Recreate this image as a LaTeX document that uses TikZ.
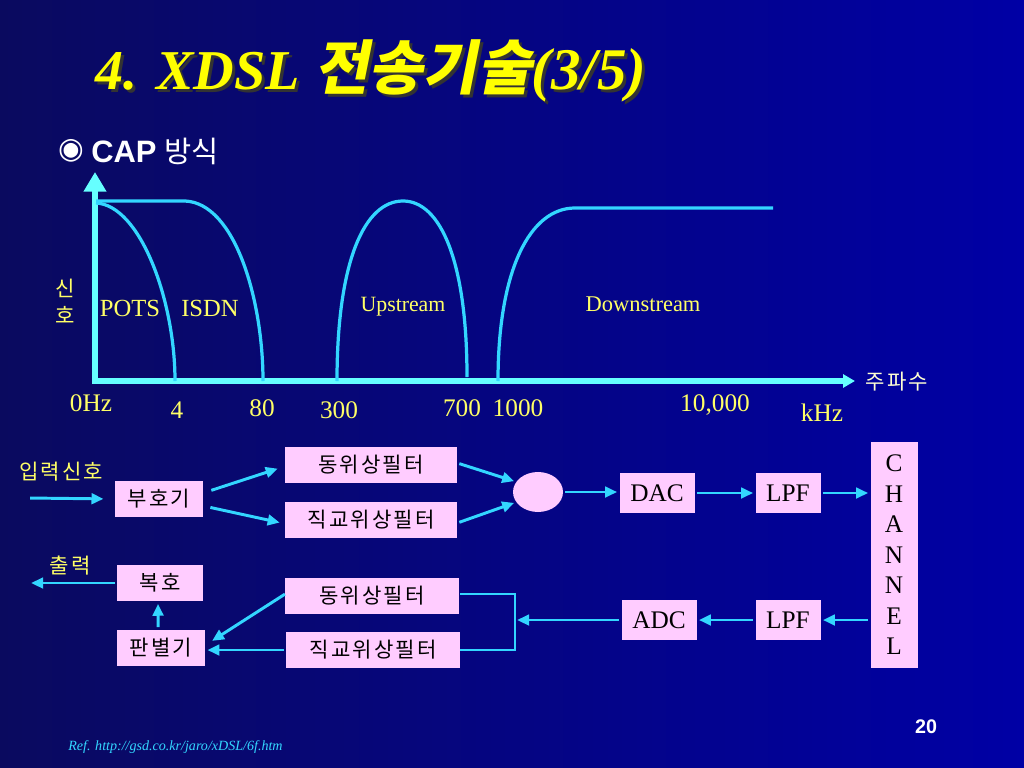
\documentclass[tikz,border=0pt]{standalone}
\usepackage{fontspec}
\setmainfont{Liberation Serif}
\setsansfont{Liberation Sans}
\newfontfamily\kor{Noto Sans CJK KR}
\newfontfamily\korbox{Noto Sans CJK KR}[LetterSpace=10]
\newfontfamily\kortitle{Noto Sans CJK KR}[FakeSlant=0.2]
\newfontfamily\symfont{DejaVu Sans}
\usetikzlibrary{arrows.meta,positioning,shapes.geometric}

\definecolor{bgleft}{RGB}{10,10,95}
\definecolor{bgright}{RGB}{0,0,165}
\definecolor{axiscyan}{RGB}{102,255,255}
\definecolor{curvecyan}{RGB}{51,214,255}
\definecolor{labelyellow}{RGB}{255,255,102}
\definecolor{titleyellow}{RGB}{255,255,0}
\definecolor{cream}{RGB}{255,255,210}
\definecolor{boxpink}{RGB}{255,204,255}

\newcommand{\fsize}[1]{\fontsize{#1}{#1}\selectfont}
\newcommand{\titletext}{{\bfseries\itshape 4. XDSL }{\kortitle\bfseries\fontsize{42}{44}\selectfont 전송기술}{\bfseries\itshape\fontsize{42}{44}\selectfont (3/5)}}

\begin{document}
\begin{tikzpicture}[x=0.025cm, y=-0.025cm,
  blockbox/.style={fill=boxpink, inner sep=0pt, text=black},
  korblock/.style={blockbox, minimum height=0.92cm, font=\korbox\fsize{15}},
  latblock/.style={blockbox, minimum height=1.02cm, font=\fsize{18}},
  flow/.style={curvecyan, line width=2.1pt, shorten >=1.5pt, shorten <=1.5pt,
    -{Triangle[length=8.5pt,width=7.5pt]}},
  band/.style={curvecyan, line width=2.3pt},
  axis/.style={axiscyan, line width=3.8pt},
  ticklabel/.style={text=labelyellow, inner sep=0pt, font=\fsize{18}},
  bandlabel/.style={text=labelyellow, inner sep=0pt},
]
\shade[left color=bgleft, right color=bgright] (0,0) rectangle (1024,768);
\useasboundingbox (0,0) rectangle (1024,768);

%% title
\node[anchor=base west, inner sep=0pt, text=black!80, font=\fsize{40}] (titleshadow) at (98,93) {\titletext};
\node[anchor=base west, inner sep=0pt, text=titleyellow, font=\fsize{40}] (title) at (95,90) {\titletext};
\node[text=white, inner sep=0pt, font=\symfont\fsize{21}] (bullet) at (71,151) {◉};
\node[anchor=west, text=white, inner sep=0pt, font=\fsize{22}] (cap) at (91,151) {{\sffamily\bfseries CAP} {\kor\fsize{21}방식}};

%% spectrum axes
\draw[axis, -{Triangle[length=14pt,width=15.5pt]}] (95,384) -- (95,172);
\draw[axis, -{Triangle[length=8.5pt,width=9.2pt]}] (93,381) -- (855,381);

%% bands
\draw[band] (96,203) .. controls (140,205) and (175,300) .. (175,381);
\draw[band] (96,201) -- (185,201) .. controls (235,203) and (263,300) .. (263,381);
\draw[band] (337,381) .. controls (337,260) and (365,201) .. (403,201)
  .. controls (440,201) and (467,260) .. (467,377);
\draw[band] (498,381) .. controls (498,270) and (530,208) .. (575,208) -- (773,208);

%% axis labels
\node[bandlabel, font=\kor\fsize{15}, align=center] (sinho) at (65,301) {신\\[4pt]호};
\node[text=cream, inner sep=0pt, font=\korbox\fsize{15}] (freq) at (897,382) {주파수};
\node[bandlabel, font=\fsize{17.5}] (pots) at (130,308) {POTS};
\node[bandlabel, font=\fsize{17.5}] (isdn) at (210,308) {ISDN};
\node[bandlabel, font=\fsize{15.5}] (up) at (403,307) {Upstream};
\node[bandlabel, font=\fsize{16}] (down) at (643,304) {Downstream};
\node[ticklabel] (t0) at (91,403) {0Hz};
\node[ticklabel] (t4) at (177,410) {4};
\node[ticklabel] (t80) at (262,408) {80};
\node[ticklabel] (t300) at (339,410) {300};
\node[ticklabel] (t700) at (462,408) {700};
\node[ticklabel] (t1000) at (518,408) {1000};
\node[ticklabel] (t10000) at (715,405) {10,000};
\node[ticklabel] (khz) at (822,413) {kHz};

%% transmitter
\node[bandlabel, font=\korbox\fsize{15}] (inlabel) at (61,472) {입력신호};
\coordinate (inp) at (28,498);
\node[korblock, minimum width=2.2cm] (bu) at (159,499) {부호기};
\node[korblock, minimum width=4.3cm] (ftop) at (371,465) {동위상필터};
\node[korblock, minimum width=4.3cm] (qtop) at (371,520) {직교위상필터};
\node[ellipse, fill=boxpink, minimum width=1.25cm, minimum height=1cm, inner sep=0pt] (sum) at (538,492) {};
\node[latblock, minimum width=1.875cm] (dac) at (657,493) {DAC};
\node[latblock, minimum width=1.625cm] (lpf) at (788,493) {LPF};
\node[blockbox, minimum width=1.175cm, minimum height=5.625cm, align=center,
  font=\fontsize{18}{21.7}\selectfont] (chan) at (894,555) {C\\H\\A\\N\\N\\E\\L};

\draw[flow, shorten >=8pt] (inp) -- (bu.west);
\draw[flow] ([shift={(6,-8)}]bu.east) -- ([shift={(-5,3)}]ftop.west);
\draw[flow] ([shift={(5,8)}]bu.east) -- ([shift={(-3,3)}]qtop.west);
\draw[flow] ([shift={(0,-2)}]ftop.east) -- (sum.155);
\draw[flow] ([shift={(0,3)}]qtop.east) -- (sum.205);
\draw[flow] (sum.east) -- (sum.east -| dac.west);
\draw[flow] (dac.east) -- (lpf.west);
\draw[flow] (lpf.east) -- (lpf.east -| chan.west);

%% receiver
\node[latblock, minimum width=1.625cm] (lpfr) at (788,620) {LPF};
\node[latblock, minimum width=1.875cm] (adc) at (659,620) {ADC};
\coordinate (brk) at (515,618);
\node[korblock, minimum width=4.35cm] (fbot) at (372,596) {동위상필터};
\node[korblock, minimum width=4.35cm] (qbot) at (373,650) {직교위상필터};
\node[korblock, minimum width=2.2cm] (pan) at (161,648) {판별기};
\node[korblock, minimum width=2.125cm] (bok) at (160,583) {복호};
\node[bandlabel, font=\korbox\fsize{15}] (outlabel) at (70,566) {출력};
\coordinate (outp) at (29,586);

\draw[flow] (chan.west |- lpfr.east) -- (lpfr.east);
\draw[flow] (lpfr.west) -- (adc.east);
\draw[flow] (adc.west) -- (adc.west -| brk);
\draw[band, line width=2.1pt, line join=miter] ([shift={(1,-2)}]fbot.east) -| (brk) |- (qbot.east);
\draw[flow] ([shift={(2,-3)}]fbot.west) -- ([shift={(5,-6)}]pan.east);
\draw[flow] (qbot.west) -- (qbot.west -| pan.east);
\draw[flow] ([xshift=-2pt]pan.north) -- ([xshift=-1.4pt]bok.south);
\draw[flow] (bok.west) -- (bok.west -| outp);

%% footer
\node[anchor=west, text=curvecyan, inner sep=0pt, font=\itshape\fsize{10}] (ref) at (68,747) {Ref. http://gsd.co.kr/jaro/xDSL/6f.htm};
\node[text=white, inner sep=0pt, font=\sffamily\bfseries\fsize{14}] (pageno) at (926,727) {20};
\end{tikzpicture}
\end{document}
